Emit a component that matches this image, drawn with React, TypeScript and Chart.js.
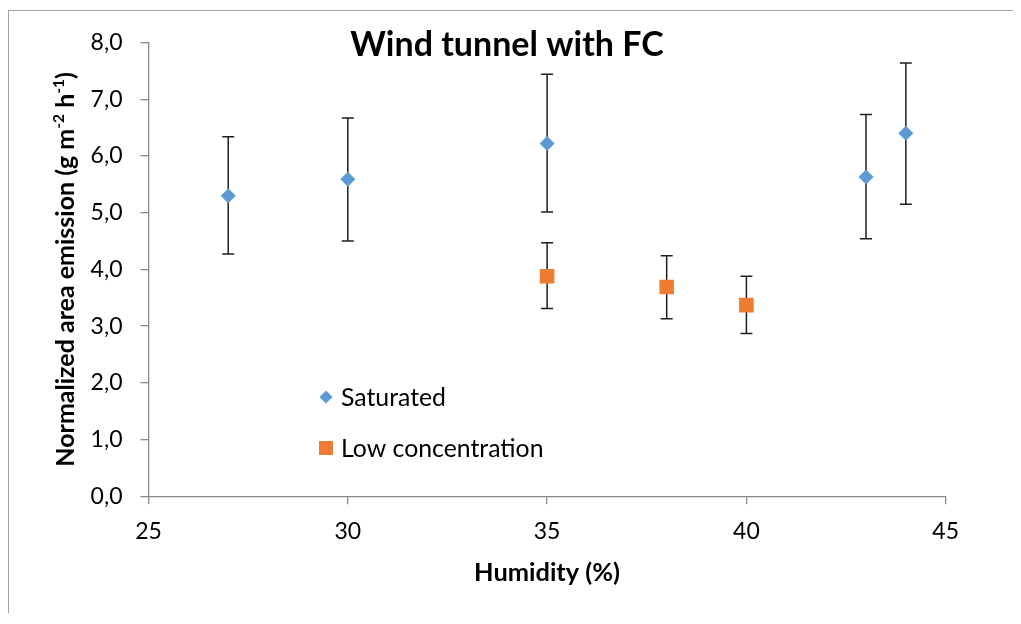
import React, { useEffect, useRef } from 'react';
import { Chart, registerables } from 'chart.js';

Chart.register(...registerables);

// ---- data ----
const humiditySaturated = [27, 30, 35, 43, 44];
const emissionSaturated = [5.3, 5.59, 6.22, 5.63, 6.4];
const upperSaturated = [6.34, 6.67, 7.44, 6.73, 7.64];
const lowerSaturated = [4.27, 4.5, 5.01, 4.54, 5.15];

const humidityLow = [35, 38, 40];
const emissionLow = [3.88, 3.69, 3.37];
const upperLow = [4.47, 4.24, 3.88];
const lowerLow = [3.31, 3.13, 2.87];

const seriesNames = ['Saturated', 'Low concentration'];
const seriesColors = ['#5B9BD5', '#ED7D31'];
const chartTitle = 'Wind tunnel with FC';
const xAxisTitle = 'Humidity (%)';
const yAxisTitleParts: [string, boolean][] = [
  ['Normalized area emission (g m', false],
  ['-2', true],
  [' h', false],
  ['-1', true],
  [')', false],
];
const xMin = 25;
const xMax = 45;
const xStep = 5;
const yMin = 0;
const yMax = 8;
const yStep = 1;

const FONT = 'Lato, "Open Sans", sans-serif';
const AXIS_GREY = '#898989';

const errorBarPlugin = {
  id: 'errorBars',
  beforeDatasetsDraw(chart: any) {
    const { ctx } = chart;
    const xs = chart.scales.x;
    const ys = chart.scales.y;
    ctx.save();
    ctx.strokeStyle = '#1f1f1f';
    ctx.lineWidth = 1.5;
    chart.data.datasets.forEach((ds: any) => {
      ds.data.forEach((p: any) => {
        const px = xs.getPixelForValue(p.x);
        const pHi = ys.getPixelForValue(p.yHigh);
        const pLo = ys.getPixelForValue(p.yLow);
        ctx.beginPath();
        ctx.moveTo(px, pHi);
        ctx.lineTo(px, pLo);
        ctx.moveTo(px - 6, pHi);
        ctx.lineTo(px + 6, pHi);
        ctx.moveTo(px - 6, pLo);
        ctx.lineTo(px + 6, pLo);
        ctx.stroke();
      });
    });
    ctx.restore();
  },
};

const decorPlugin = {
  id: 'decor',
  afterDraw(chart: any) {
    const { ctx, chartArea } = chart;
    ctx.save();
    // title
    ctx.fillStyle = '#000';
    ctx.font = `bold 34px ${FONT}`;
    ctx.textAlign = 'center';
    ctx.textBaseline = 'middle';
    ctx.fillText(chartTitle, 498, 34);

    // y axis title with superscripts
    const cy = (chartArea.top + chartArea.bottom) / 2;
    const mainFont = `bold 25px ${FONT}`;
    const supFont = `bold 15.5px ${FONT}`;
    let total = 0;
    yAxisTitleParts.forEach(([t, sup]) => {
      ctx.font = sup ? supFont : mainFont;
      total += ctx.measureText(t).width;
    });
    ctx.translate(57, cy);
    ctx.rotate(-Math.PI / 2);
    ctx.textAlign = 'left';
    ctx.textBaseline = 'middle';
    let x = -total / 2;
    yAxisTitleParts.forEach(([t, sup]) => {
      ctx.font = sup ? supFont : mainFont;
      ctx.fillText(t, x, sup ? -7 : 0);
      x += ctx.measureText(t).width;
    });
    ctx.restore();

    // legend
    ctx.save();
    const lx = 317;
    const rows = [386, 437];
    ctx.font = `24.8px ${FONT}`;
    ctx.textAlign = 'left';
    ctx.textBaseline = 'middle';
    // diamond
    ctx.fillStyle = seriesColors[0];
    ctx.beginPath();
    ctx.moveTo(lx - 6.5, rows[0]);
    ctx.lineTo(lx, rows[0] - 6.5);
    ctx.lineTo(lx + 6.5, rows[0]);
    ctx.lineTo(lx, rows[0] + 6.5);
    ctx.closePath();
    ctx.fill();
    // square
    ctx.fillStyle = seriesColors[1];
    ctx.fillRect(lx - 7, rows[1] - 7, 14, 14);
    ctx.fillStyle = '#000';
    ctx.fillText(seriesNames[0], 332, rows[0] + 1);
    ctx.fillText(seriesNames[1], 332, rows[1] + 1);
    ctx.restore();
  },
};

export default function App() {
  const canvasRef = useRef<HTMLCanvasElement | null>(null);

  useEffect(() => {
    if (!canvasRef.current) return;
    const chart = new Chart(canvasRef.current, {
      type: 'scatter',
      data: {
        datasets: [
          {
            label: seriesNames[0],
            data: humiditySaturated.map((x, i) => ({
              x,
              y: emissionSaturated[i],
              yHigh: upperSaturated[i],
              yLow: lowerSaturated[i],
            })),
            pointStyle: 'rectRot',
            pointRadius: 7.5,
            pointBackgroundColor: seriesColors[0],
            pointBorderColor: seriesColors[0],
            pointBorderWidth: 0,
            showLine: false,
          },
          {
            label: seriesNames[1],
            data: humidityLow.map((x, i) => ({
              x,
              y: emissionLow[i],
              yHigh: upperLow[i],
              yLow: lowerLow[i],
            })),
            pointStyle: 'rect',
            pointRadius: 10.3,
            pointBackgroundColor: seriesColors[1],
            pointBorderColor: seriesColors[1],
            pointBorderWidth: 0,
            showLine: false,
          },
        ],
      } as any,
      options: {
        animation: false,
        responsive: true,
        maintainAspectRatio: false,
        events: [],
        layout: { padding: { left: 59.5, top: 31.5, right: 68.3, bottom: 18.7 } },
        plugins: {
          legend: { display: false },
          title: { display: false },
          tooltip: { enabled: false },
        },
        scales: {
          x: {
            type: 'linear',
            min: xMin,
            max: xMax,
            afterFit(scale: any) {
              scale.height = 100;
              scale.paddingLeft = 0;
              scale.paddingRight = 0;
            },
            ticks: {
              stepSize: xStep,
              color: '#000',
              font: { family: FONT, size: 23 },
              padding: 13,
              maxRotation: 0,
            },
            grid: {
              display: true,
              drawOnChartArea: false,
              drawTicks: true,
              tickLength: 8,
              color: AXIS_GREY,
              lineWidth: 1.3,
            },
            border: { display: true, color: AXIS_GREY, width: 1.3 },
            title: {
              display: true,
              text: xAxisTitle,
              color: '#000',
              font: { family: FONT, size: 25.4, weight: 'bold' },
              padding: { top: 0, bottom: 8 },
            },
          },
          y: {
            type: 'linear',
            min: yMin,
            max: yMax,
            afterFit(scale: any) {
              scale.width = 80;
              scale.paddingTop = 0;
              scale.paddingBottom = 0;
            },
            ticks: {
              stepSize: yStep,
              color: '#000',
              font: { family: FONT, size: 23 },
              padding: 18,
              callback: (v: any) => Number(v).toFixed(1).replace('.', ','),
            },
            grid: {
              display: true,
              drawOnChartArea: false,
              drawTicks: true,
              tickLength: 8,
              color: AXIS_GREY,
              lineWidth: 1.3,
            },
            border: { display: true, color: AXIS_GREY, width: 1.3 },
          },
        },
      } as any,
      plugins: [errorBarPlugin, decorPlugin],
    });
    return () => chart.destroy();
  }, []);

  return (
    <div
      style={{
        position: 'relative',
        top: 2,
        width: 1005,
        height: 604,
        borderLeft: '1px solid #a0a0a0',
        borderTop: '1px solid #a0a0a0',
      }}
    >
      <canvas ref={canvasRef} style={{ display: 'block' }} />
    </div>
  );
}
